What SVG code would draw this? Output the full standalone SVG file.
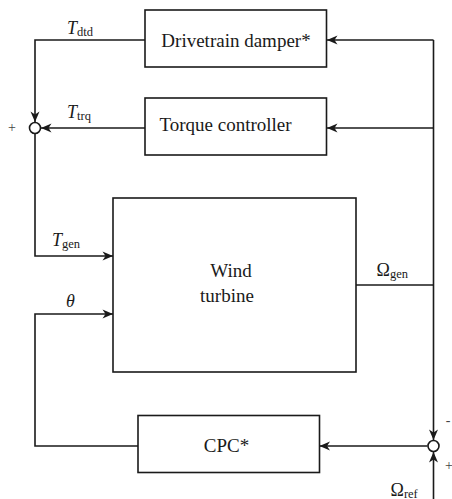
<svg xmlns="http://www.w3.org/2000/svg" width="452" height="499" viewBox="0 0 452 499">
<defs>
<style>
.box{fill:#fff;stroke:#1a1a1a;stroke-width:1.6}
.ln{fill:none;stroke:#1a1a1a;stroke-width:1.6}
.sum{fill:#fff;stroke:#1a1a1a;stroke-width:1.6}
.t{font-family:"Liberation Serif","Times New Roman",serif;font-size:19px;fill:#1a1a1a}
.m{font-family:"Liberation Serif","Times New Roman",serif;font-size:18px;fill:#1a1a1a}
.i{font-style:italic}
.s{font-family:"Liberation Serif","Times New Roman",serif;font-size:12.5px;fill:#1a1a1a}
.sg{font-family:"Liberation Serif","Times New Roman",serif;font-size:14px;fill:#444}
</style>
<marker id="arr" viewBox="-11 -5 12 10" refX="0" refY="0" markerWidth="12" markerHeight="10" markerUnits="userSpaceOnUse" orient="auto">
<path d="M0,0 L-10.5,-4.5 L-7.5,0 L-10.5,4.5 Z" fill="#1a1a1a"/>
</marker>
</defs>
<g id="connectors">
<path class="ln" d="M433.5,40 L327,40" marker-end="url(#arr)"/>
<path class="ln" d="M433.5,128 L327,128" marker-end="url(#arr)"/>
<path class="ln" d="M433.5,40 L433.5,440" marker-end="url(#arr)"/>
<path class="ln" d="M356,285 L433.5,285"/>
<path class="ln" d="M433.5,499 L433.5,452" marker-end="url(#arr)"/>
<path class="ln" d="M427.5,446 L319.5,446" marker-end="url(#arr)"/>
<path class="ln" d="M145,40 L35,40 L35,122" marker-end="url(#arr)"/>
<path class="ln" d="M145,128 L41,128" marker-end="url(#arr)"/>
<path class="ln" d="M35,134 L35,256 L113,256" marker-end="url(#arr)"/>
<path class="ln" d="M138,446 L35,446 L35,314 L113,314" marker-end="url(#arr)"/>
</g>
<g id="drivetrain-damper">
<rect class="box" x="145" y="10" width="181.5" height="57"/>
<text class="t" x="236" y="46.5" text-anchor="middle">Drivetrain damper*</text>
</g>
<g id="torque-controller">
<rect class="box" x="145" y="98" width="181.5" height="57"/>
<text class="t" x="225.5" y="131" text-anchor="middle">Torque controller</text>
</g>
<g id="wind-turbine">
<rect class="box" x="113" y="198" width="243" height="174"/>
<text class="t" x="231" y="277" text-anchor="middle">Wind</text>
<text class="t" x="227" y="302" text-anchor="middle">turbine</text>
</g>
<g id="cpc">
<rect class="box" x="138" y="415.5" width="181.5" height="57"/>
<text class="t" x="226.5" y="452" text-anchor="middle">CPC*</text>
</g>
<g id="sum-torque">
<circle class="sum" cx="35" cy="128" r="5.5"/>
<text class="sg" x="12" y="132" text-anchor="middle">+</text>
</g>
<g id="sum-speed">
<circle class="sum" cx="433.5" cy="446" r="5.5"/>
<text class="sg" x="448" y="425" text-anchor="middle">-</text>
<text class="sg" x="449" y="470" text-anchor="middle">+</text>
</g>
<g id="labels">
<text x="67" y="34"><tspan class="m i">T</tspan><tspan class="s" dy="1.5">dtd</tspan></text>
<text x="67" y="118"><tspan class="m i">T</tspan><tspan class="s" dy="1.5">trq</tspan></text>
<text x="52" y="246"><tspan class="m i">T</tspan><tspan class="s" dy="1.5">gen</tspan></text>
<text class="m i" x="66" y="307">θ</text>
<text x="376.5" y="276"><tspan class="m">Ω</tspan><tspan class="s" dy="1.5">gen</tspan></text>
<text x="390.5" y="496"><tspan class="m">Ω</tspan><tspan class="s" dy="1.5">ref</tspan></text>
</g>
</svg>
